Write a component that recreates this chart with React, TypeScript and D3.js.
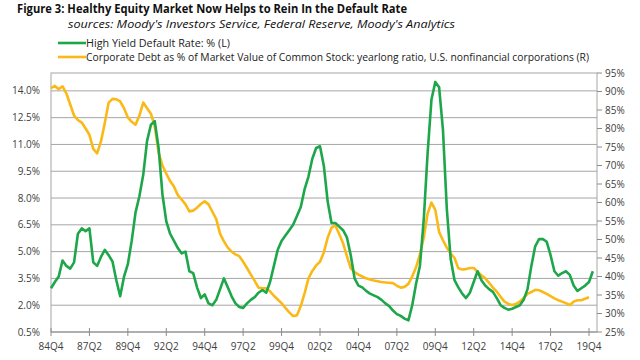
import { useEffect, useRef } from "react";
import * as d3 from "d3";

// Quarterly values, first point 84Q4
// High Yield Default Rate (%), left axis — through 20Q1
const defaultRate = [
  2.95, 3.3, 3.6, 4.5, 4.2, 4.05, 4.4, 6.0, 6.3, 6.15,
  6.3, 4.4, 4.2, 4.7, 5.1, 4.8, 4.45, 3.4, 2.5, 3.6,
  4.3, 5.6, 7.2, 8.1, 9.3, 11.2, 12.1, 12.3, 10.8, 8.2,
  6.7, 6.0, 5.6, 5.2, 4.9, 5.0, 3.9, 3.8, 3.0, 2.4,
  2.6, 2.1, 2.0, 2.3, 2.9, 3.5, 3.0, 2.5, 2.1, 1.9,
  1.85, 2.1, 2.3, 2.45, 2.7, 2.85, 2.7, 3.3, 4.2, 5.1,
  5.6, 5.9, 6.2, 6.5, 7.0, 7.5, 8.5, 9.2, 10.2, 10.8,
  10.9, 9.8, 7.8, 6.6, 6.6, 6.4, 6.2, 5.8, 4.8, 3.5,
  3.1, 3.0, 2.8, 2.65, 2.55, 2.45, 2.3, 2.1, 1.95, 1.7,
  1.5, 1.4, 1.25, 1.15, 2.0, 3.2, 4.2, 6.8, 10.5, 13.5,
  14.5, 14.2, 11.8, 7.4, 4.6, 3.4, 3.0, 2.65, 2.4, 2.7,
  3.3, 3.9, 3.4, 3.1, 2.9, 2.75, 2.4, 2.0, 1.85, 1.75,
  1.8, 1.9, 2.0, 2.3, 2.9, 4.2, 5.3, 5.7, 5.7, 5.55,
  4.8, 3.9, 3.65, 3.8, 3.9, 3.7, 3.1, 2.8, 2.95, 3.1,
  3.3, 3.9
];

// Corporate Debt as % of Market Value of Common Stock, right axis — through 19Q4
const debtToEquity = [
  90.9, 91.5, 90.6, 91.4, 89.5, 86.5, 83.5, 82.3, 81.6, 80.0,
  78.3, 74.5, 73.3, 76.5, 81.5, 87.0, 88.0, 87.9, 87.3, 85.5,
  83.0, 81.8, 81.0, 83.5, 87.0, 85.5, 84.0, 80.5, 73.5, 70.0,
  67.8, 65.8, 64.3, 62.0, 60.8, 59.5, 57.6, 57.8, 58.6, 59.6,
  60.3, 59.5, 57.5, 55.5, 51.5, 49.5, 47.8, 46.7, 46.0, 45.5,
  44.0, 42.3, 40.5, 38.8, 37.0, 36.8, 36.8, 36.0, 34.8, 33.8,
  32.8, 31.5, 30.3, 29.3, 29.5, 32.0, 35.5, 39.5, 41.5, 43.0,
  44.0, 46.5, 50.5, 53.2, 53.8, 51.5, 49.0, 45.5, 42.2, 41.2,
  40.5, 40.0, 39.5, 39.2, 38.9, 38.7, 38.5, 38.4, 38.3, 38.2,
  37.5, 37.0, 37.2, 38.0, 40.0, 42.5, 46.0, 50.5, 57.0, 60.0,
  58.0, 52.0, 49.8, 47.8, 46.2, 45.0, 42.2, 41.9, 42.0, 42.3,
  42.3, 41.3, 40.3, 39.5, 38.3, 37.0, 35.9, 34.5, 33.2, 32.6,
  32.3, 32.6, 33.2, 34.2, 35.3, 35.8, 36.4, 36.3, 35.8, 35.3,
  34.7, 34.1, 33.6, 33.2, 32.8, 32.3, 33.2, 33.6, 33.6, 34.0,
  34.4
];

// x labels, one every 10 quarters
const xTickLabels = [
  "84Q4", "87Q2", "89Q4", "92Q2", "94Q4", "97Q2", "99Q4", "02Q2",
  "04Q4", "07Q2", "09Q4", "12Q2", "14Q4", "17Q2", "19Q4"
];
const leftTicks = [0.5, 2.0, 3.5, 5.0, 6.5, 8.0, 9.5, 11.0, 12.5, 14.0];
const rightTicks = [25, 30, 35, 40, 45, 50, 55, 60, 65, 70, 75, 80, 85, 90, 95];

const GREEN = "#1ea64a";
const YELLOW = "#fbb917";
const FONT = "'Open Sans', 'Noto Sans', sans-serif";

const App = () => {
  const svgRef = useRef<SVGSVGElement>(null);

  useEffect(() => {
    if (!svgRef.current) return;
    const width = 640;
    const height = 360;
    const plot = { left: 51, right: 597, top: 73, bottom: 332 };

    const svg = d3.select(svgRef.current);
    svg.selectAll("*").remove();

    const x = d3.scaleLinear().domain([0, 140]).range([51, 589]);
    const yL = d3.scaleLinear().domain([0.5, 15.0]).range([plot.bottom, plot.top]);
    const yR = d3.scaleLinear().domain([25, 95]).range([plot.bottom, plot.top]);

    svg.append("rect").attr("width", width).attr("height", height).attr("fill", "#fff");

    // gridlines
    svg.append("g")
      .selectAll("line")
      .data(leftTicks.slice(1))
      .enter()
      .append("line")
      .attr("x1", plot.left)
      .attr("x2", plot.right)
      .attr("y1", (d) => yL(d))
      .attr("y2", (d) => yL(d))
      .attr("stroke", "#a6a6a6")
      .attr("stroke-width", 1);

    // plot frame
    svg.append("rect")
      .attr("x", plot.left)
      .attr("y", plot.top)
      .attr("width", plot.right - plot.left)
      .attr("height", plot.bottom - plot.top)
      .attr("fill", "none")
      .attr("stroke", "#a6a6a6")
      .attr("stroke-width", 1);

    // left labels
    svg.append("g")
      .selectAll("text")
      .data(leftTicks)
      .enter()
      .append("text")
      .attr("x", 40)
      .attr("y", (d) => yL(d) + 3.5)
      .attr("text-anchor", "end")
      .style("font-family", FONT)
      .style("font-size", "10px")
      .attr("fill", "#404040")
      .text((d) => d.toFixed(1) + "%");

    // right ticks + labels
    const rg = svg.append("g");
    rg.selectAll("line")
      .data(rightTicks)
      .enter()
      .append("line")
      .attr("x1", plot.right)
      .attr("x2", plot.right + 5)
      .attr("y1", (d) => yR(d))
      .attr("y2", (d) => yR(d))
      .attr("stroke", "#8c8c8c");
    rg.selectAll("text")
      .data(rightTicks)
      .enter()
      .append("text")
      .attr("x", 605)
      .attr("y", (d) => yR(d) + 3.5)
      .style("font-family", FONT)
      .style("font-size", "10px")
      .attr("fill", "#404040")
      .text((d) => d + "%");

    // bottom axis
    svg.append("line")
      .attr("x1", plot.left)
      .attr("x2", plot.right)
      .attr("y1", plot.bottom)
      .attr("y2", plot.bottom)
      .attr("stroke", "#8c8c8c")
      .attr("stroke-width", 1.2);
    const xg = svg.append("g");
    xg.selectAll("line")
      .data(xTickLabels)
      .enter()
      .append("line")
      .attr("x1", (_, i) => x(i * 10))
      .attr("x2", (_, i) => x(i * 10))
      .attr("y1", plot.bottom - 4)
      .attr("y2", plot.bottom + 4)
      .attr("stroke", "#8c8c8c");
    xg.selectAll("text")
      .data(xTickLabels)
      .enter()
      .append("text")
      .attr("x", (_, i) => x(i * 10))
      .attr("y", 350)
      .attr("text-anchor", "middle")
      .style("font-family", FONT)
      .style("font-size", "10px")
      .attr("fill", "#404040")
      .text((d) => d);

    // series
    const lineL = d3.line<number>().x((_, i) => x(i)).y((d) => yL(d));
    const lineR = d3.line<number>().x((_, i) => x(i)).y((d) => yR(d));

    svg.append("path")
      .datum(debtToEquity)
      .attr("fill", "none")
      .attr("stroke", YELLOW)
      .attr("stroke-width", 2.6)
      .attr("stroke-linejoin", "round")
      .attr("d", lineR);

    svg.append("path")
      .datum(defaultRate)
      .attr("fill", "none")
      .attr("stroke", GREEN)
      .attr("stroke-width", 2.6)
      .attr("stroke-linejoin", "round")
      .attr("d", lineL);

    // title
    svg.append("text")
      .attr("x", 17)
      .attr("y", 13)
      .attr("textLength", 390)
      .attr("lengthAdjust", "spacingAndGlyphs")
      .style("font-family", FONT)
      .style("font-size", "11.5px")
      .style("font-weight", "700")
      .attr("fill", "#111")
      .text("Figure 3: Healthy Equity Market Now Helps to Rein In the Default Rate");

    svg.append("text")
      .attr("x", 68)
      .attr("y", 27.5)
      .attr("textLength", 387)
      .attr("lengthAdjust", "spacingAndGlyphs")
      .style("font-family", FONT)
      .style("font-size", "11.5px")
      .style("font-style", "italic")
      .attr("fill", "#111")
      .text("sources: Moody's Investors Service, Federal Reserve, Moody's Analytics");

    // legend
    const legend = [
      { color: GREEN, y: 43, text: "High Yield Default Rate: % (L)", len: 144 },
      {
        color: YELLOW,
        y: 57,
        text: "Corporate Debt as % of Market Value of Common Stock: yearlong ratio, U.S. nonfinancial corporations (R)",
        len: 503
      }
    ];
    legend.forEach((l) => {
      svg.append("line")
        .attr("x1", 58)
        .attr("x2", 86)
        .attr("y1", l.y)
        .attr("y2", l.y)
        .attr("stroke", l.color)
        .attr("stroke-width", 2.6);
      svg.append("text")
        .attr("x", 86)
        .attr("y", l.y + 4)
        .attr("textLength", l.len)
        .attr("lengthAdjust", "spacingAndGlyphs")
        .style("font-family", FONT)
        .style("font-size", "11px")
        .attr("fill", "#222")
        .text(l.text);
    });
  }, []);

  return (
    <svg
      ref={svgRef}
      width={640}
      height={360}
      style={{ position: "fixed", left: 0, top: 0, display: "block" }}
    />
  );
};

export default App;
